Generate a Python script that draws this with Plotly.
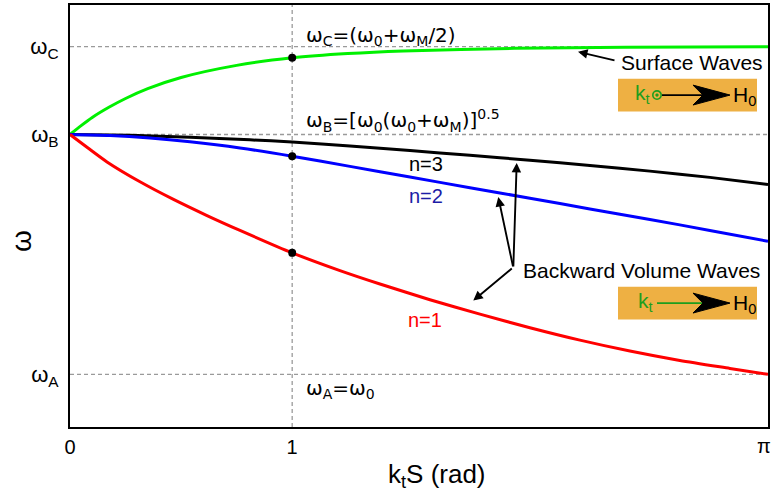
import math
import plotly.graph_objects as go

# --- reference frequencies (arbitrary units, w0 = 1, wM = 2) ---
w_A = 1.0      # w0
w_B = 1.732    # sqrt(w0 (w0 + wM))
w_C = 2.0      # w0 + wM/2

x_ticks = [0, 1, math.pi]
x_tick_text = ["0", "1", "π"]
y_ticks = [w_A, w_B, w_C]
y_tick_text = ["ω<sub>A</sub>", "ω<sub>B</sub>", "ω<sub>C</sub>"]

# --- dispersion curves, k_t S (rad) vs frequency ---
ks_surface = [0, 0.05, 0.1, 0.175, 0.25, 0.35, 0.5, 0.75, 1.0, 1.25, 1.5, 2.0, 2.5, math.pi]
w_surface = [1.732, 1.759, 1.784, 1.815, 1.842, 1.872, 1.906, 1.943, 1.966, 1.979, 1.987, 1.995, 1.998, 2.0]

ks_n1 = [0, 0.081, 0.1665, 0.315, 0.4635, 0.6166, 0.765, 1.0, 1.215, 1.395, 1.62, 1.845,
         2.07, 2.295, 2.52, 2.745, 2.97, math.pi]
w_n1 = [1.732, 1.6909, 1.6485, 1.5879, 1.5348, 1.4848, 1.4394, 1.3709, 1.3167, 1.2758, 1.2279, 1.1839,
        1.1424, 1.1045, 1.0712, 1.0424, 1.0182, 1.0]

ks_n2 = [0, 0.18, 0.36, 0.54, 0.765, 1.0, 1.26, 1.53, 1.80, 2.07, 2.34, 2.61, 2.88, math.pi]
w_n2 = [1.732, 1.7288, 1.7212, 1.7097, 1.6909, 1.6658, 1.6348, 1.6021, 1.5697, 1.5376, 1.5048, 1.4727, 1.4394, 1.4061]

ks_n3 = [0, 0.27, 0.54, 0.81, 1.0, 1.26, 1.53, 1.80, 2.07, 2.34, 2.61, 2.88, math.pi]
w_n3 = [1.732, 1.7294, 1.7236, 1.7158, 1.7091, 1.697, 1.683, 1.6685, 1.6536, 1.6376, 1.6203, 1.6012, 1.5797]

ks_mark = 1.0

GREEN = "#00f000"
BLUE = "#0000ff"
RED = "#ff0000"
KGREEN = "#1e9e1e"
BOX = "#eeb043"

# plot-area geometry in pixels
W, H = 773, 496
L, R, T, B = 70, 5, 3, 69
PW, PH = W - L - R, H - T - B


def pp(px, py):
    """pixel position -> paper coordinates"""
    return (px - L) / PW, (H - B - py) / PH


fig = go.Figure()

for xs, ys, col in [(ks_surface, w_surface, GREEN), (ks_n3, w_n3, "black"),
                    (ks_n2, w_n2, BLUE), (ks_n1, w_n1, RED)]:
    fig.add_trace(go.Scatter(x=xs, y=ys, mode="lines",
                             line=dict(color=col, width=3, shape="spline", smoothing=0.7),
                             showlegend=False, hoverinfo="skip"))

# markers where k_t S = 1 on the surface, n=2 and n=1 branches
mark_y = [w_surface[ks_surface.index(ks_mark)], w_n2[ks_n2.index(ks_mark)], w_n1[ks_n1.index(ks_mark)]]
fig.add_trace(go.Scatter(x=[ks_mark] * 3, y=mark_y, mode="markers",
                         marker=dict(color="black", size=8), showlegend=False, hoverinfo="skip"))

shapes = []
DASH = dict(color="#9a9a9a", width=1.3, dash="4px,3px")
for w in (w_A, w_B, w_C):
    shapes.append(dict(type="line", xref="x", yref="y", x0=0, x1=math.pi, y0=w, y1=w,
                       line=DASH, layer="below"))
shapes.append(dict(type="line", xref="x", yref="paper", x0=ks_mark, x1=ks_mark, y0=0, y1=1,
                   line=DASH, layer="below"))


def rect(px0, py0, px1, py1):
    x0, y0 = pp(px0, py0)
    x1, y1 = pp(px1, py1)
    return dict(type="rect", xref="paper", yref="paper", x0=x0, y0=y0, x1=x1, y1=y1,
                fillcolor=BOX, line=dict(width=0), layer="above")


def seg(px0, py0, px1, py1, col, width=1.8):
    x0, y0 = pp(px0, py0)
    x1, y1 = pp(px1, py1)
    return dict(type="line", xref="paper", yref="paper", x0=x0, y0=y0, x1=x1, y1=y1,
                line=dict(color=col, width=width), layer="above")


def head(tipx, cy):
    pts = [(tipx, cy), (tipx - 37, cy - 10), (tipx - 27, cy), (tipx - 37, cy + 10)]
    path = "M " + " L ".join("%.5f,%.5f" % pp(a, b) for a, b in pts) + " Z"
    return dict(type="path", xref="paper", yref="paper", path=path,
                fillcolor="black", line=dict(color="black", width=1), layer="above")


def circ(cx, cy, r, col, fill=None, width=1.6):
    x0, y0 = pp(cx - r, cy + r)
    x1, y1 = pp(cx + r, cy - r)
    return dict(type="circle", xref="paper", yref="paper", x0=x0, y0=y0, x1=x1, y1=y1,
                line=dict(color=col, width=width), fillcolor=fill or "rgba(0,0,0,0)", layer="above")


# field / wave-vector insets
cy1, cy2 = 93.5, 302.5
shapes += [rect(618, 77, 757, 110), seg(662, cy1, 704, cy1, "black"), head(730, cy1),
           circ(657, cy1, 4.2, KGREEN), circ(657, cy1, 1.4, KGREEN, KGREEN, 0.5)]
shapes += [rect(618, 286, 757, 319), seg(657, cy2, 704, cy2, KGREEN), head(730, cy2)]

ann = []
TXT = dict(family="Liberation Sans, Arial, sans-serif", color="black")
MATH = dict(family="DejaVu Sans, sans-serif", color="black", size=20)


def text(px, py, s, font, xanchor="left"):
    x, y = pp(px, py)
    ann.append(dict(x=x, y=y, xref="paper", yref="paper", text=s, showarrow=False,
                    xanchor=xanchor, yanchor="middle", font=font))


text(304, 34, "ω<sub>C</sub>=(ω<sub>0</sub>+ω<sub>M</sub>/2)", MATH)
text(304, 119, "ω<sub>B</sub>=[ω<sub>0</sub>(ω<sub>0</sub>+ω<sub>M</sub>)]<sup>0.5</sup>", MATH)
text(304, 389, "ω<sub>A</sub>=ω<sub>0</sub>", MATH)

text(619, 61, "Surface Waves", dict(TXT, size=21))
text(521, 270, "Backward Volume Waves", dict(TXT, size=21))

text(407, 163, "n=3", dict(TXT, size=20))
text(407, 195, "n=2", dict(TXT, size=20, color="#1c1ca6"))
text(406, 319, "n=1", dict(TXT, size=20, color=RED))

text(633, cy1 - 1, "k<sub>t</sub>", dict(TXT, size=21, color=KGREEN))
text(731, cy1 + 1, "H<sub>0</sub>", dict(TXT, size=21))
text(636, cy2 - 1, "k<sub>t</sub>", dict(TXT, size=21, color=KGREEN))
text(731, cy2 + 1, "H<sub>0</sub>", dict(TXT, size=21))

# the last x tick label sits at the right edge of the page, so it is right-aligned there
text(773, 446, x_tick_text[-1], dict(TXT, size=20), xanchor="right")

# axis titles
text(437, 476, "k<sub>t</sub>S (rad)", dict(TXT, size=26), xanchor="center")
x, y = pp(22, 240)
ann.append(dict(x=x, y=y, xref="paper", yref="paper", text="ω", showarrow=False,
                textangle=-90, xanchor="center", yanchor="middle", font=dict(TXT, size=28)))


def arrow(tipx, tipy, tailx, taily):
    x, y = pp(tipx, tipy)
    ann.append(dict(x=x, y=y, xref="paper", yref="paper", text="", showarrow=True,
                    ax=tailx - tipx, ay=taily - tipy, arrowhead=2, arrowsize=1,
                    arrowwidth=1.9, arrowcolor="black", standoff=0))


arrow(578, 50, 616, 59)
hub = (513.3, 266.7)
arrow(516.7, 161.7, *hub)
arrow(498.3, 196, *hub)
arrow(473.3, 300, *hub)

axis_common = dict(showgrid=False, zeroline=False, showline=True, linecolor="black",
                   linewidth=2, mirror=True, ticks="")

fig.update_layout(
    width=W, height=H,
    margin=dict(l=L, r=R, t=T, b=B, pad=0),
    paper_bgcolor="white", plot_bgcolor="white",
    xaxis=dict(axis_common, range=[0, math.pi], tickvals=x_ticks[:-1], ticktext=x_tick_text[:-1],
               tickfont=dict(TXT, size=20), ticklabelstandoff=1),
    yaxis=dict(axis_common, range=[w_A - 53 / 330, w_C + 42 / 330], tickvals=y_ticks,
               ticktext=y_tick_text, tickfont=dict(TXT, size=22), ticklabelstandoff=5),
    shapes=shapes, annotations=ann,
)

fig.write_html("out.html")
